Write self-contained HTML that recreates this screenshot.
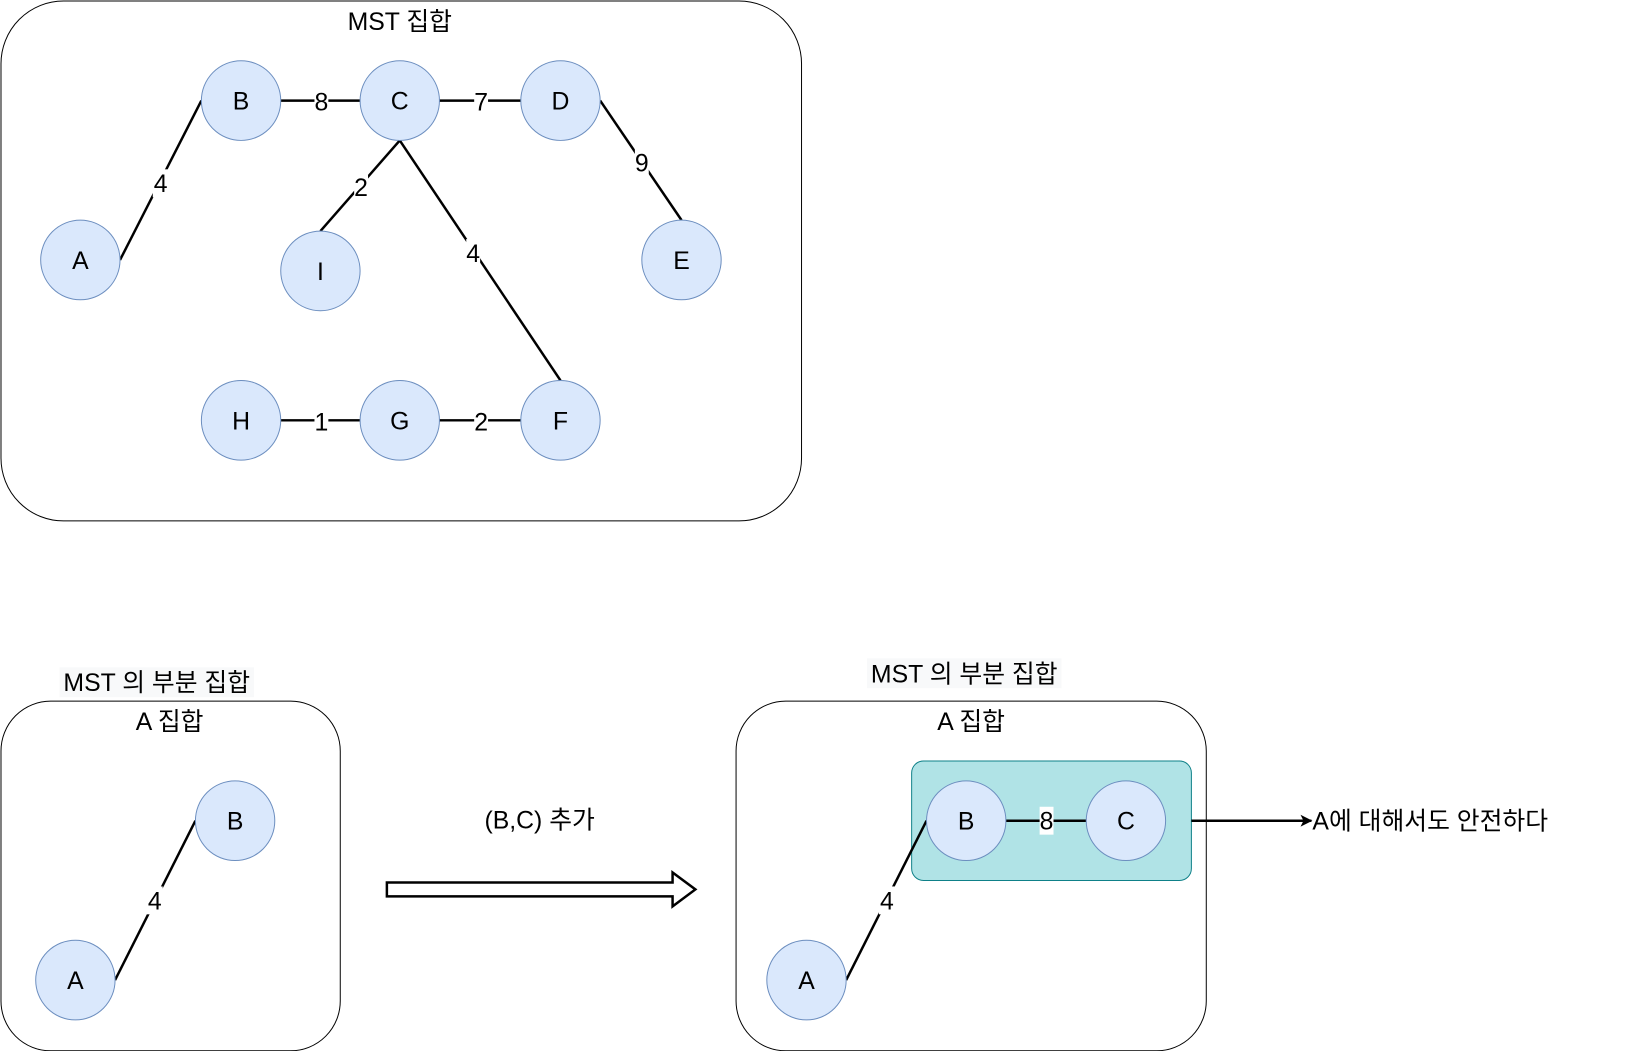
<!DOCTYPE html>
<html><head><meta charset="utf-8"><style>
body{margin:0;background:#fff;}
text{font-family:"Liberation Sans","Noto Sans CJK KR",sans-serif;font-size:25px;fill:#000;}
</style></head><body>
<svg width="1631" height="1051" viewBox="0 0 1631 1051" xmlns="http://www.w3.org/2000/svg">
<defs><marker id="ah" markerWidth="12" markerHeight="12" refX="11" refY="6" orient="auto" markerUnits="userSpaceOnUse"><path d="M0,0 L12,6 L0,12 L3,6 z" fill="#000"/></marker></defs>
<g transform="scale(0.992,0.996)">
<!-- top box -->
<rect x="1" y="1" width="807" height="522" rx="63" fill="#fff" stroke="#000"/>
<text x="403" y="30" text-anchor="middle">MST 집합</text>
<g stroke="#000" stroke-width="2.5">
<line x1="121" y1="261" x2="203" y2="101"/>
<line x1="283" y1="101" x2="363" y2="101"/>
<line x1="443" y1="101" x2="525" y2="101"/>
<line x1="403" y1="141" x2="323" y2="232"/>
<line x1="403" y1="141" x2="565" y2="382"/>
<line x1="605" y1="101" x2="687" y2="221"/>
<line x1="283" y1="422" x2="363" y2="422"/>
<line x1="443" y1="422" x2="525" y2="422"/>
</g>
<g fill="#fff">
<rect x="154" y="170" width="16" height="28"/><rect x="317" y="88" width="14" height="28"/><rect x="478" y="88" width="14" height="28"/>
<rect x="357" y="174" width="14" height="28"/><rect x="470" y="240" width="14" height="28"/><rect x="640" y="149" width="14" height="28"/>
<rect x="317" y="409" width="14" height="28"/><rect x="478" y="409" width="14" height="28"/>
</g>
<g text-anchor="middle">
<text x="162" y="193">4</text><text x="324" y="111">8</text><text x="485" y="111">7</text>
<text x="364" y="197">2</text><text x="477" y="263">4</text><text x="647" y="172">9</text>
<text x="324" y="432">1</text><text x="485" y="432">2</text>
</g>
<g fill="#dae8fc" stroke="#6c8ebf">
<circle cx="243" cy="101" r="40"/><circle cx="403" cy="101" r="40"/><circle cx="565" cy="101" r="40"/>
<circle cx="81" cy="261" r="40"/><circle cx="323" cy="272" r="40"/><circle cx="687" cy="261" r="40"/>
<circle cx="243" cy="422" r="40"/><circle cx="403" cy="422" r="40"/><circle cx="565" cy="422" r="40"/>
</g>
<g text-anchor="middle">
<text x="243" y="110">B</text><text x="403" y="110">C</text><text x="565" y="110">D</text>
<text x="81" y="270">A</text><text x="323" y="281">I</text><text x="687" y="270">E</text>
<text x="243" y="431">H</text><text x="403" y="431">G</text><text x="565" y="431">F</text>
</g>
<!-- bottom left -->
<rect x="60" y="670" width="196" height="30" fill="#f8f9fa"/>
<text x="158" y="694" text-anchor="middle">MST 의 부분 집합</text>
<rect x="1" y="704" width="342" height="351" rx="50" fill="#fff" stroke="#000"/>
<text x="171" y="733" text-anchor="middle">A 집합</text>
<line x1="116" y1="984" x2="197" y2="824" stroke="#000" stroke-width="2.5"/>
<rect x="148" y="890" width="16" height="28" fill="#fff"/>
<text x="156" y="913" text-anchor="middle">4</text>
<circle cx="237" cy="824" r="40" fill="#dae8fc" stroke="#6c8ebf"/><text x="237" y="833" text-anchor="middle">B</text>
<circle cx="76" cy="984" r="40" fill="#dae8fc" stroke="#6c8ebf"/><text x="76" y="993" text-anchor="middle">A</text>
<!-- big arrow -->
<text x="544" y="832" text-anchor="middle">(B,C) 추가</text>
<path d="M390,886 L678,886 L678,876 L701,893 L678,910 L678,900 L390,900 Z" fill="#fff" stroke="#000" stroke-width="2.5"/>
<!-- bottom right -->
<rect x="874" y="661" width="196" height="30" fill="#f8f9fa"/>
<text x="972" y="685" text-anchor="middle">MST 의 부분 집합</text>
<rect x="742" y="704" width="474" height="351" rx="50" fill="#fff" stroke="#000"/>
<text x="979" y="733" text-anchor="middle">A 집합</text>
<rect x="919" y="764" width="282" height="120" rx="12" fill="#b0e3e6" stroke="#0e8088"/>
<line x1="853" y1="984" x2="934" y2="824" stroke="#000" stroke-width="2.5"/>
<line x1="1014" y1="824" x2="1095" y2="824" stroke="#000" stroke-width="2.5"/>
<rect x="886" y="890" width="16" height="28" fill="#fff"/>
<text x="894" y="913" text-anchor="middle">4</text>
<rect x="1048" y="810" width="14" height="28" fill="#fff"/>
<text x="1055" y="833" text-anchor="middle">8</text>
<circle cx="974" cy="824" r="40" fill="#dae8fc" stroke="#6c8ebf"/><text x="974" y="833" text-anchor="middle">B</text>
<circle cx="1135" cy="824" r="40" fill="#dae8fc" stroke="#6c8ebf"/><text x="1135" y="833" text-anchor="middle">C</text>
<circle cx="813" cy="984" r="40" fill="#dae8fc" stroke="#6c8ebf"/><text x="813" y="993" text-anchor="middle">A</text>
<line x1="1201" y1="824" x2="1322" y2="824" stroke="#000" stroke-width="2.5" marker-end="url(#ah)"/>
<text x="1323" y="833">A에 대해서도 안전하다</text>
</g>
</svg>
</body></html>
